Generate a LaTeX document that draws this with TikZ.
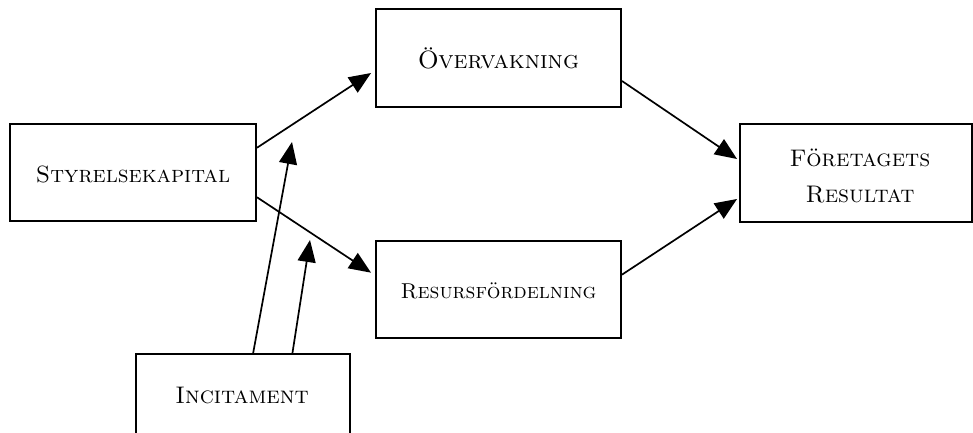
\documentclass[tikz,border=0pt]{standalone}
\usepackage{fontspec}
\usetikzlibrary{arrows.meta,calc}
\begin{document}
\begin{tikzpicture}[x=1pt,y=-1pt,
  box/.style={draw,line width=1.9pt,inner sep=0pt,align=center},
  lbl/.style={inner sep=0pt,align=center,font=\fontsize{24}{36}\selectfont},
  conn/.style={line width=1.7pt,-{Triangle[length=22pt,width=18pt]}}]
\useasboundingbox (0,0) rectangle (973,432);
\node[box,minimum width=246pt,minimum height=97pt] (sty) at (133,172.5) {};
\node[lbl,font=\fontsize{23.5}{36}\selectfont] (stytext) at (133,174) {\textsc{Styrelsekapital}};
\node[box,minimum width=245pt,minimum height=98pt] (ove) at (498.5,58) {};
\node[lbl,font=\fontsize{25}{36}\selectfont] (ovetext) at (498.5,58) {\textsc{Övervakning}};
\node[box,minimum width=245pt,minimum height=97pt] (res) at (498.5,289.5) {};
\node[lbl,font=\fontsize{21.5}{30}\selectfont] (restext) at (498.5,291) {\textsc{Resursfördelning}};
\node[box,minimum width=232pt,minimum height=98pt] (fore) at (856,173) {};
\node[lbl] (foretext) at (860,176) {\textsc{Företagets}\\\textsc{Resultat}};
\node[box,minimum width=214pt,minimum height=97pt] (inc) at (243,402.5) {};
\node[lbl] (inctext) at (242,395) {\textsc{Incitament}};
\coordinate (t1) at (292,142);
\coordinate (t2) at (310,240);
\draw[conn] ($(sty.north east)!0.25!(sty.south east)$) -- ($(ove.north west)!0.65!(ove.south west)+(-4,0)$);
\draw[conn] ($(sty.north east)!0.75!(sty.south east)$) -- ($(res.north west)!0.33!(res.south west)+(-4,0)$);
\draw[conn] ($(ove.north east)!0.73!(ove.south east)$) -- ($(fore.north west)!0.36!(fore.south west)+(-2,0)$);
\draw[conn] ($(res.north east)!0.35!(res.south east)$) -- ($(fore.north west)!0.76!(fore.south west)+(-2,0)$);
\draw[conn] ($(inc.north west)!0.547!(inc.north east)$) -- (t1);
\draw[conn] ($(inc.north west)!0.729!(inc.north east)$) -- (t2);
\end{tikzpicture}
\end{document}
